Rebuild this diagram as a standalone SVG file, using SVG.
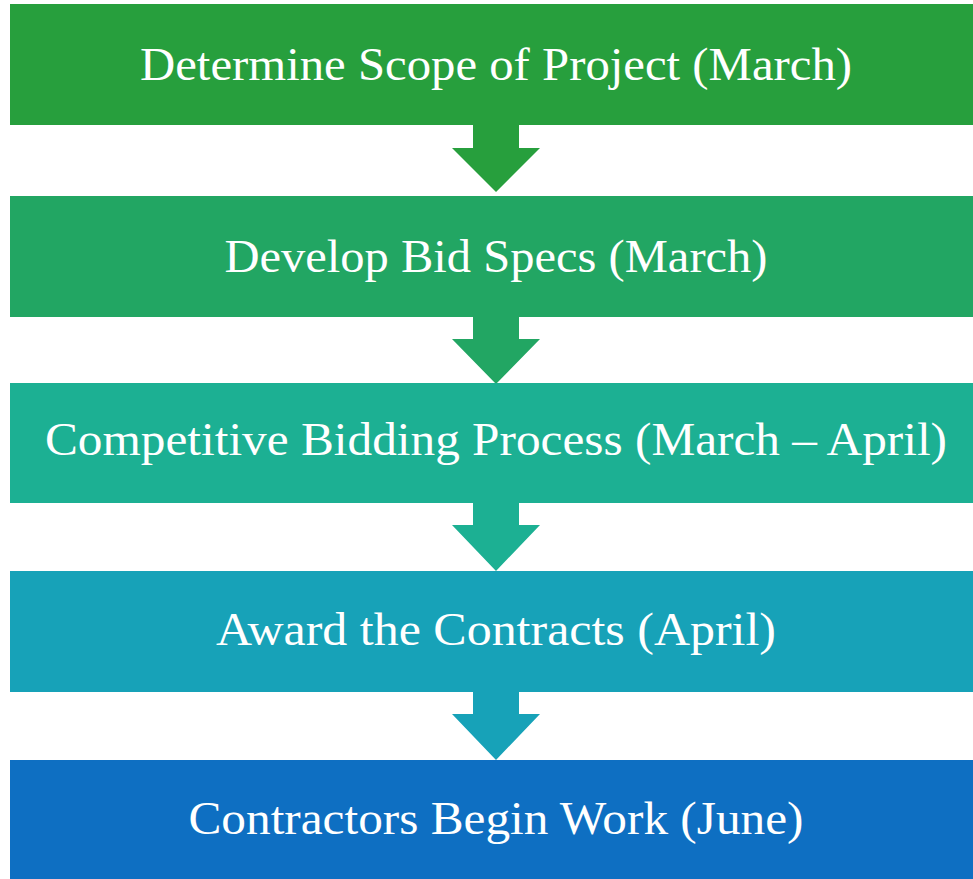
<svg xmlns="http://www.w3.org/2000/svg" width="973" height="879" viewBox="0 0 973 879">
<style>
text{font-family:"Liberation Serif","DejaVu Serif",serif;font-size:46px;fill:#ffffff;text-anchor:middle}
</style>
<rect x="0" y="0" width="973" height="879" fill="#ffffff"/>
<g id="connectors">
<polygon points="473,120 519,120 519,148 540,148 496,192 452,148 473,148" fill="#279f3d"/>
<polygon points="473,312 519,312 519,339 540,339 496,384 452,339 473,339" fill="#22a663"/>
<polygon points="473,498 519,498 519,525 540,525 496,571 452,525 473,525" fill="#1cb093"/>
<polygon points="473,687 519,687 519,714 540,714 496,760 452,714 473,714" fill="#17a2b8"/>
</g>
<g id="n1"><rect x="10" y="4" width="963" height="121" fill="#279f3d"/><text x="496" y="80" textLength="712" lengthAdjust="spacingAndGlyphs">Determine Scope of Project (March)</text></g>
<g id="n2"><rect x="10" y="196" width="963" height="121" fill="#22a663"/><text x="496" y="272" textLength="543" lengthAdjust="spacingAndGlyphs">Develop Bid Specs (March)</text></g>
<g id="n3"><rect x="10" y="383" width="963" height="120" fill="#1cb093"/><text x="496" y="455" textLength="902" lengthAdjust="spacingAndGlyphs">Competitive Bidding Process (March – April)</text></g>
<g id="n4"><rect x="10" y="571" width="963" height="121" fill="#17a2b8"/><text x="496" y="645" textLength="560" lengthAdjust="spacingAndGlyphs">Award the Contracts (April)</text></g>
<g id="n5"><rect x="10" y="760" width="963" height="119" fill="#0e6fc2"/><text x="496" y="834" textLength="615" lengthAdjust="spacingAndGlyphs">Contractors Begin Work (June)</text></g>
</svg>
